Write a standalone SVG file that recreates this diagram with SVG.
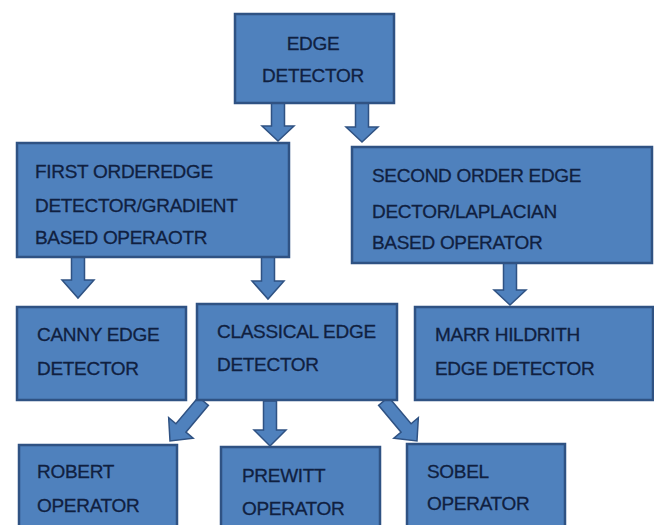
<svg xmlns="http://www.w3.org/2000/svg" width="654" height="525" viewBox="0 0 654 525">
<style>
.box{fill:#4f81bd;stroke:#2f5283;stroke-width:2.5}
.arr{fill:#4f81bd;stroke:#2f5283;stroke-width:1.5;stroke-linejoin:miter}
.t{font-family:"Liberation Sans",Arial,sans-serif;font-size:19px;letter-spacing:-0.3px;fill:#102040;stroke:#102040;stroke-width:0.3}
.c{text-anchor:middle}
</style>
<rect width="654" height="525" fill="#ffffff"/>
<g id="connectors">
<path class="arr" transform="translate(278,141)" d="M-6.5,-38 L6.5,-38 L6.5,-15 L16,-15 L0,0 L-16,-15 L-6.5,-15 Z"/>
<path class="arr" transform="translate(362,142)" d="M-6.5,-39 L6.5,-39 L6.5,-15 L16,-15 L0,0 L-16,-15 L-6.5,-15 Z"/>
<path class="arr" transform="translate(78,298)" d="M-6.5,-41 L6.5,-41 L6.5,-18 L16,-18 L0,0 L-16,-18 L-6.5,-18 Z"/>
<path class="arr" transform="translate(268,299)" d="M-6.5,-42 L6.5,-42 L6.5,-18 L16,-18 L0,0 L-16,-18 L-6.5,-18 Z"/>
<path class="arr" transform="translate(510,305)" d="M-6.5,-42 L6.5,-42 L6.5,-15 L16,-15 L0,0 L-16,-15 L-6.5,-15 Z"/>
<path class="arr" transform="translate(270,446)" d="M-6.5,-45 L6.5,-45 L6.5,-16 L16,-16 L0,0 L-16,-16 L-6.5,-16 Z"/>
<path class="arr" transform="translate(170,441) rotate(40)" d="M-6.5,-52 L6.5,-52 L6.5,-17 L16,-17 L0,0 L-16,-17 L-6.5,-17 Z"/>
<path class="arr" transform="translate(417,441) rotate(-40)" d="M-6.5,-52 L6.5,-52 L6.5,-17 L16,-17 L0,0 L-16,-17 L-6.5,-17 Z"/>
</g>
<g id="edge-detector">
<rect class="box" x="235" y="14" width="159" height="89"/>
<text class="t c" x="313" y="50">EDGE</text>
<text class="t c" x="313" y="82">DETECTOR</text>
</g>
<g id="first-order">
<rect class="box" x="17" y="143" width="272" height="114"/>
<text class="t" x="35" y="178">FIRST ORDEREDGE</text>
<text class="t" x="35" y="212">DETECTOR/GRADIENT</text>
<text class="t" x="35" y="244">BASED OPERAOTR</text>
</g>
<g id="second-order">
<rect class="box" x="352" y="147" width="300" height="116"/>
<text class="t" x="372" y="182">SECOND ORDER EDGE</text>
<text class="t" x="372" y="218">DECTOR/LAPLACIAN</text>
<text class="t" x="372" y="249">BASED OPERATOR</text>
</g>
<g id="canny">
<rect class="box" x="17" y="307" width="169" height="93"/>
<text class="t" x="37" y="341">CANNY EDGE</text>
<text class="t" x="37" y="375">DETECTOR</text>
</g>
<g id="classical">
<rect class="box" x="197" y="304" width="200" height="96"/>
<text class="t" x="217" y="338">CLASSICAL EDGE</text>
<text class="t" x="217" y="371">DETECTOR</text>
</g>
<g id="marr">
<rect class="box" x="415" y="307" width="238" height="93"/>
<text class="t" x="435" y="341">MARR HILDRITH</text>
<text class="t" x="435" y="375">EDGE DETECTOR</text>
</g>
<g id="robert">
<rect class="box" x="19" y="445" width="158" height="90"/>
<text class="t" x="37" y="478">ROBERT</text>
<text class="t" x="37" y="512">OPERATOR</text>
</g>
<g id="prewitt">
<rect class="box" x="221" y="447" width="159" height="90"/>
<text class="t" x="242" y="482">PREWITT</text>
<text class="t" x="242" y="515">OPERATOR</text>
</g>
<g id="sobel">
<rect class="box" x="407" y="444" width="158" height="90"/>
<text class="t" x="427" y="478">SOBEL</text>
<text class="t" x="427" y="510">OPERATOR</text>
</g>
</svg>
